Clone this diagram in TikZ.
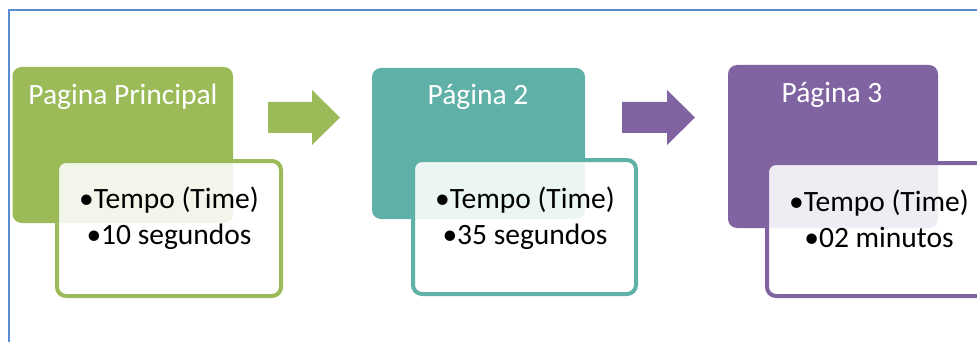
\documentclass[tikz,border=0pt]{standalone}
\usepackage{fontspec}
\setmainfont{Carlito}
\definecolor{frameblue}{HTML}{5B8BD0}
\definecolor{cgreen}{HTML}{9BBB59}
\definecolor{cteal}{HTML}{5FB0A6}
\definecolor{cpurple}{HTML}{8064A2}
\tikzset{
  titlebox/.style={rounded corners=9pt, draw=none},
  titletext/.style={text=white, font=\fontsize{29.5}{34}\selectfont, anchor=center, inner sep=0pt},
  detailbox/.style={rounded corners=9pt, line width=4pt, fill=white, fill opacity=0.88},
  detailtext/.style={text=black, font=\fontsize{29.5}{36}\selectfont, align=center, anchor=center, inner sep=0pt},
  flowarrow/.style={draw=none}
}
\begin{document}
\begin{tikzpicture}[x=1pt,y=-1pt]
\useasboundingbox (0,0) rectangle (977,342);
\clip (0,0) rectangle (977,342);
% frame
\draw[frameblue, line width=1.3pt] (9,342) -- (9,10) -- (980,10);
% stage 1
\fill[cgreen, titlebox] (12.5,67) rectangle (233,223);
\node[titletext] (t1) at (123,97) {Pagina Principal};
\draw[cgreen, detailbox] (57,161) rectangle (281,296);
\node[detailtext] (d1) at (169,218) {•Tempo (Time)\\•10 segundos};
% arrow 1
\fill[cgreen, flowarrow] (268,102) -- (312,102) -- (312,90) -- (340,117.5) -- (312,145) -- (312,133) -- (268,133) -- cycle;
% stage 2
\fill[cteal, titlebox] (372,68) rectangle (585,219);
\node[titletext] (t2) at (478,97) {Página 2};
\draw[cteal, detailbox] (413,160) rectangle (636,294);
\node[detailtext] (d2) at (525,218) {•Tempo (Time)\\•35 segundos};
% arrow 2
\fill[cpurple, flowarrow] (622,102) -- (667,102) -- (667,90) -- (695,117.5) -- (667,145) -- (667,133) -- (622,133) -- cycle;
% stage 3
\fill[cpurple, titlebox] (728,65) rectangle (938,228);
\node[titletext] (t3) at (832,95) {Página 3};
\draw[cpurple, detailbox] (767,163) rectangle (995,296);
\node[detailtext] (d3) at (879,219) {•Tempo (Time)\\•02 minutos};
\end{tikzpicture}
\end{document}
